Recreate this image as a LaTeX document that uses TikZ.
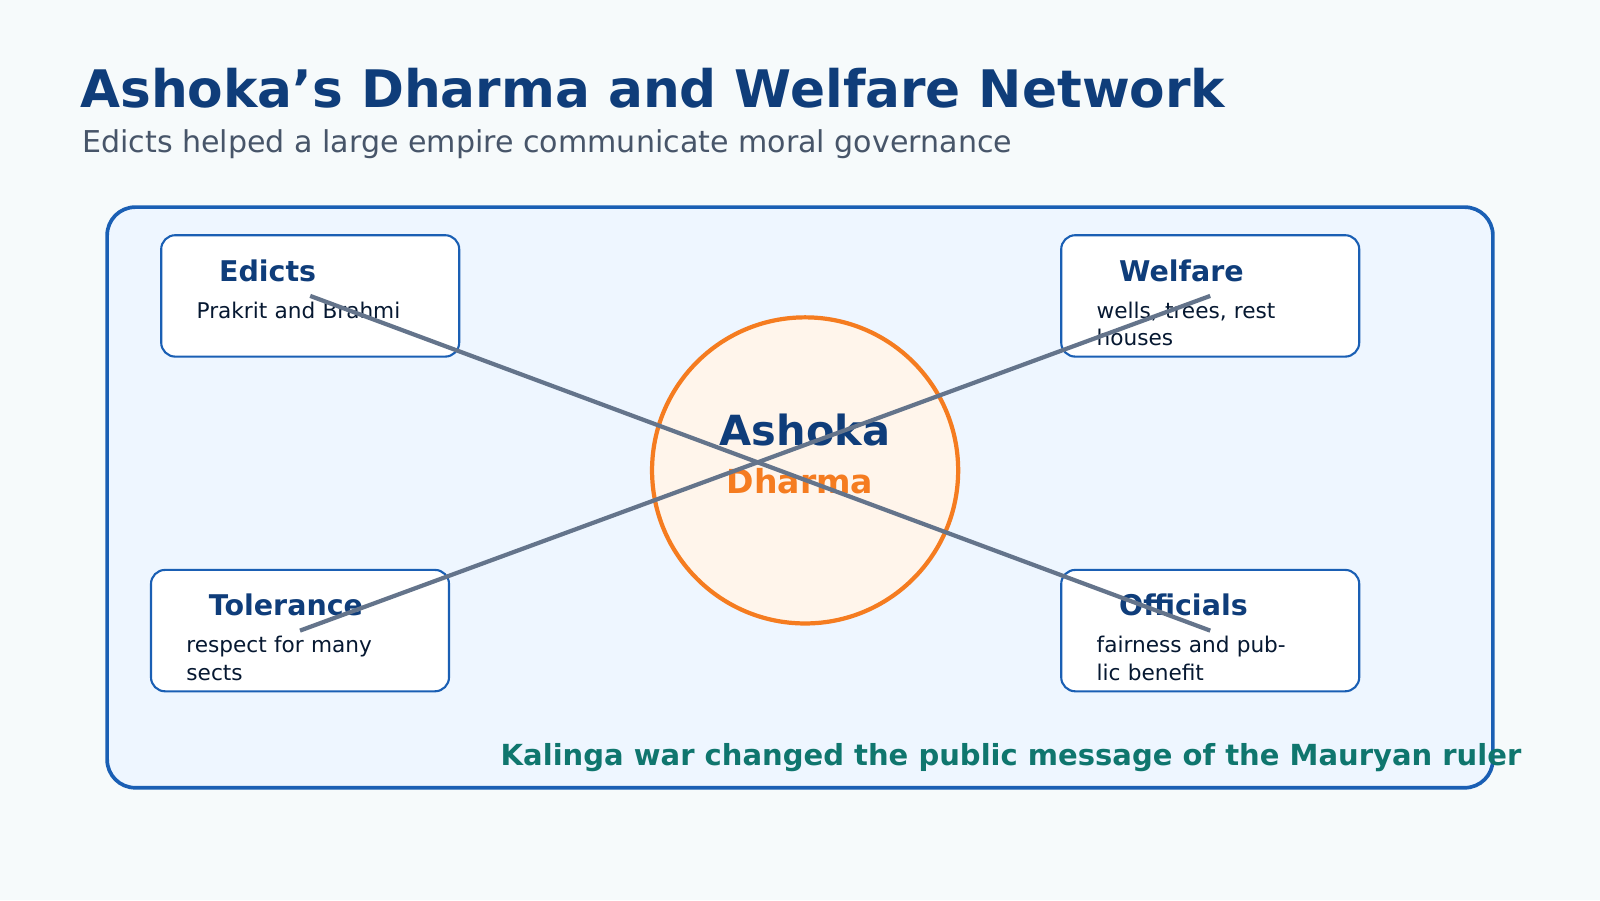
\documentclass[tikz,border=0pt]{standalone}
\usepackage{fontspec}
\setmainfont{DejaVu Sans}
\definecolor{bgc}{HTML}{F6FAFB}
\definecolor{navy}{HTML}{0F3D7A}
\definecolor{rim}{HTML}{1A5FB4}
\definecolor{panel}{HTML}{EEF6FF}
\definecolor{orng}{HTML}{F57C20}
\definecolor{peach}{HTML}{FFF5EB}
\definecolor{slate}{HTML}{64748B}
\definecolor{teal}{HTML}{0F766E}
\definecolor{grey}{HTML}{475569}
\begin{document}
\begin{tikzpicture}[x=0.0102cm,y=-0.0102cm]
  \tikzstyle{card}=[draw=rim, line width=0.6pt, fill=white, rounded corners=4pt, minimum width=84.7pt, minimum height=34.5pt, inner sep=0pt]
  \tikzstyle{head}=[anchor=west, text=navy, font=\bfseries\fontsize{8.1}{9.5}\selectfont, inner sep=0pt]
  \tikzstyle{body}=[anchor=north west, text=navy!40!black, font=\fontsize{6.15}{7.8}\selectfont, inner sep=0pt, text width=58pt, align=left]
  \tikzstyle{link}=[draw=slate, line width=1.2pt]

  \fill[bgc] (0,0) rectangle (1568,882);
  \node[anchor=west, text=navy, font=\bfseries\fontsize{14.7}{17}\selectfont, inner sep=0pt] (title) at (78,86) {Ashoka\symbol{39}s Dharma and Welfare Network};
  \node[anchor=west, text=grey, font=\fontsize{8.55}{10}\selectfont, inner sep=0pt] (sub) at (80,141) {Edicts helped a large empire communicate moral governance};

  \draw[rim, line width=1.05pt, fill=panel, rounded corners=8pt] (105,203) rectangle (1463,772);

  \node[circle, draw=orng, line width=1.2pt, fill=peach, minimum size=87pt, inner sep=0pt] (ashoka) at (789,461) {};
  \node[text=navy, font=\bfseries\fontsize{11.8}{14}\selectfont, inner sep=0pt] (aname) at (789,421) {Ashoka};
  \node[text=orng, font=\bfseries\fontsize{9.4}{11}\selectfont, inner sep=0pt] (dname) at (784,472) {Dharma};

  \node[card] (edicts) at (304,290) {};
  \node[card] (welfare) at (1186,290) {};
  \node[card] (tolerance) at (294,618) {};
  \node[card] (officials) at (1186,618) {};

  \node[head] at (214,265) {Edicts};
  \node[body] at (192,295) {Prakrit and Brahmi};
  \node[head] at (1096,265) {Welfare};
  \node[body] at (1074,295) {wells, trees, rest houses};
  \node[head] at (204,593) {Tolerance};
  \node[body] at (182,623) {respect for many sects};
  \node[head] at (1096,593) {Officials};
  \node[body] at (1074,623) {fairness and public benefit};

  \path[link] (edicts.center) -- (officials.center);
  \path[link] (welfare.center) -- (tolerance.center);

  \node[anchor=west, text=teal, font=\bfseries\fontsize{8.25}{10}\selectfont, inner sep=0pt] (note) at (490,742) {Kalinga war changed the public message of the Mauryan ruler};
\end{tikzpicture}
\end{document}
